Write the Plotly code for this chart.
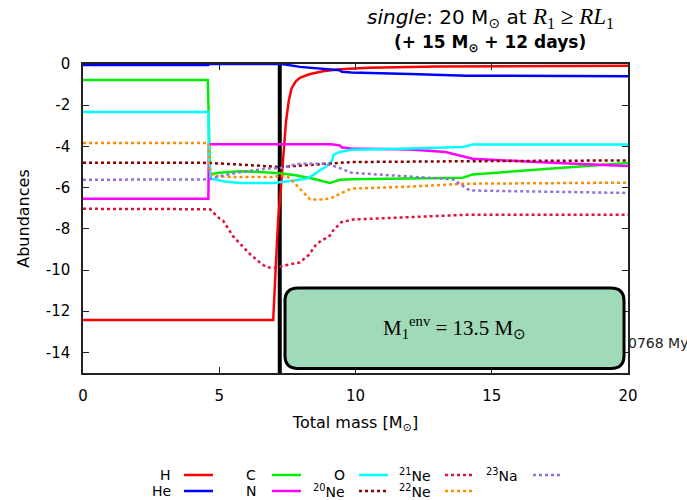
import plotly.graph_objects as go

# ---------------- data ----------------
H_x = [0, 6.98, 7.05, 7.12, 7.16, 7.22, 7.28, 7.36, 7.45, 7.55, 7.65, 7.8, 7.96, 8.3, 8.8, 9.42, 10.5, 13, 16, 20]
H_y = [-12.43, -12.43, -10.5, -8.3, -7.6, -6.7, -5.75, -4.2, -2.8, -1.8, -1.2, -0.85, -0.67, -0.5, -0.35, -0.25, -0.18, -0.12, -0.1, -0.09]

He_x = [0, 4.6, 4.62, 7.3, 7.96, 8.6, 9.2, 9.42, 9.5, 9.85, 12, 14.07, 20]
He_y = [-0.05, -0.05, 0.0, 0.0, -0.14, -0.2, -0.27, -0.3, -0.38, -0.41, -0.48, -0.57, -0.59]

C_x = [0, 4.58, 4.62, 4.66, 5.0, 5.76, 6.5, 7.22, 7.8, 8.45, 9.06, 9.42, 9.9, 12, 13.94, 14.3, 17, 19.94, 20]
C_y = [-0.78, -0.78, -3.0, -5.35, -5.28, -5.21, -5.24, -5.3, -5.4, -5.57, -5.78, -5.62, -5.6, -5.57, -5.52, -5.36, -5.1, -4.81, -4.8]

N_x = [0, 4.6, 4.62, 9.1, 9.42, 9.5, 9.85, 12, 13.3, 13.8, 14.3, 17, 20]
N_y = [-6.54, -6.54, -3.9, -3.9, -3.95, -4.05, -4.1, -4.15, -4.27, -4.43, -4.6, -4.78, -4.95]

O_x = [0, 4.6, 4.62, 4.7, 5.2, 5.76, 6.98, 7.22, 7.6, 8.2, 8.5, 8.69, 8.9, 9.12, 9.2, 9.42, 9.85, 12, 13.94, 14.3, 20]
O_y = [-2.33, -2.33, -4.5, -5.57, -5.7, -5.78, -5.78, -5.75, -5.68, -5.57, -5.35, -5.16, -5.0, -4.76, -4.4, -4.27, -4.16, -4.1, -4.03, -3.91, -3.91]

Ne20_x = [0, 4.6, 6, 7.22, 8, 9.42, 9.85, 14, 20]
Ne20_y = [-4.79, -4.8, -4.9, -5.0, -4.93, -4.81, -4.76, -4.72, -4.68]

Ne21_x = [0, 4.6, 4.66, 5.02, 5.14, 5.51, 6.12, 6.5, 6.74, 7.05, 7.35, 7.96, 8.3, 8.57, 9.06, 9.18, 9.48, 9.9, 12, 14.07, 20]
Ne21_y = [-7.03, -7.03, -7.05, -7.51, -7.6, -8.37, -9.22, -9.65, -9.87, -9.9, -9.79, -9.63, -9.25, -8.73, -8.33, -8.08, -7.68, -7.55, -7.45, -7.32, -7.32]

Ne22_x = [0, 4.6, 4.62, 4.77, 5.5, 6.98, 7.22, 7.47, 7.7, 7.96, 8.33, 8.7, 9.06, 9.42, 9.85, 12, 14.07, 20]
Ne22_y = [-3.83, -3.83, -5.0, -5.44, -5.49, -5.49, -5.43, -5.41, -5.7, -6.05, -6.57, -6.58, -6.54, -6.3, -6.05, -5.95, -5.81, -5.76]

Na23_x = [0, 4.6, 4.62, 5.0, 5.76, 6.74, 7.22, 7.83, 7.96, 8.93, 9.06, 9.42, 9.85, 12, 13.58, 14.19, 20]
Na23_y = [-5.62, -5.62, -5.6, -5.45, -5.25, -5.08, -5.05, -4.87, -4.84, -4.84, -4.89, -5.05, -5.28, -5.45, -5.6, -6.14, -6.26]

marker_mass = 7.22          # current mass coordinate (vertical line)
y_range = [-15, 0]
x_range = [0, 20]

x_tickvals = [0, 5, 10, 15, 20]
x_ticktext = ["0", "5", "10", "15", "20"]
y_tickvals = [0, -2, -4, -6, -8, -10, -12, -14]
y_ticktext = ["0", "-2", "-4", "-6", "-8", "-10", "-12", "-14"]

series = [
    # name, x, y, colour, dash
    ("H", H_x, H_y, "#ff0000", "solid"),
    ("He", He_x, He_y, "#0000ff", "solid"),
    ("C", C_x, C_y, "#00ee00", "solid"),
    ("N", N_x, N_y, "#ff00ff", "solid"),
    ("O", O_x, O_y, "#00ffff", "solid"),
    ("<sup>20</sup>Ne", Ne20_x, Ne20_y, "#8b0000", "dot"),
    ("<sup>21</sup>Ne", Ne21_x, Ne21_y, "#dc143c", "dot"),
    ("<sup>22</sup>Ne", Ne22_x, Ne22_y, "#ff8c00", "dot"),
    ("<sup>23</sup>Na", Na23_x, Na23_y, "#9370db", "dot"),
]

# legend layout (column-major, gnuplot style: label then sample)
legend_slots = [(0, 0), (0, 1), (1, 0), (1, 1), (2, 0), (2, 1), (3, 0), (3, 1), (4, 0)]

# ---------------- geometry helpers ----------------
W, Hh = 687, 500
L, R, T, B = 83, 628, 64, 373


def px(xp):
    return (xp - L) / (R - L)


def py(yp):
    return (B - yp) / (B - T)


FONT = "DejaVu Sans"

fig = go.Figure()

# vertical marker line
fig.add_trace(go.Scatter(x=[marker_mass, marker_mass], y=y_range, mode="lines",
                         line=dict(color="black", width=4), showlegend=False,
                         hoverinfo="skip"))

for name, xs, ys, col, dash in series:
    fig.add_trace(go.Scatter(x=xs, y=ys, mode="lines", name=name,
                             line=dict(color=col, width=2.5, dash=dash),
                             showlegend=False))

shapes = []
annotations = []

# legend
col_label_right = [173, 258, 347, 433, 520]
col_line_start = [184, 272, 359, 445, 533]
row_y = [475, 491]
for (name, xs, ys, col, dash), (c, r) in zip(series, legend_slots):
    yy = row_y[r]
    annotations.append(dict(xref="paper", yref="paper", x=px(col_label_right[c]), y=py(yy),
                            xanchor="right", yanchor="middle", text=name, showarrow=False,
                            font=dict(family=FONT, size=14, color="black")))
    shapes.append(dict(type="line", xref="paper", yref="paper",
                       x0=px(col_line_start[c]), x1=px(col_line_start[c] + 29),
                       y0=py(yy), y1=py(yy), line=dict(color=col, width=2.5, dash=dash)))

# rounded box
bx0, bx1, by0, by1, rr = 285, 624, 288, 368.5, 13
X0, X1 = px(bx0), px(bx1)
Yt, Yb = py(by0), py(by1)
rx = rr / (R - L)
ry = rr / (B - T)
path = (f"M {X0+rx},{Yt} L {X1-rx},{Yt} Q {X1},{Yt} {X1},{Yt-ry} "
        f"L {X1},{Yb+ry} Q {X1},{Yb} {X1-rx},{Yb} L {X0+rx},{Yb} "
        f"Q {X0},{Yb} {X0},{Yb+ry} L {X0},{Yt-ry} Q {X0},{Yt} {X0+rx},{Yt} Z")

annotations.append(dict(xref="paper", yref="paper", x=px(626), y=py(343), xanchor="left",
                        yanchor="middle", text="0768 My", showarrow=False,
                        font=dict(family=FONT, size=14, color="#222")))

shapes.append(dict(type="path", xref="paper", yref="paper", path=path,
                   fillcolor="#a0dab9", line=dict(color="black", width=3), layer="above"))

annotations.append(dict(xref="paper", yref="paper", x=px(454), y=py(327), xanchor="center",
                        yanchor="middle",
                        text="M<sub>1</sub><sup>env</sup> = 13.5 M<sub>⊙</sub>",
                        showarrow=False,
                        font=dict(family="Liberation Serif", size=21, color="black")))

# title
annotations.append(dict(xref="paper", yref="paper", x=px(490), y=py(18), xanchor="center",
                        yanchor="middle",
                        text=("<i>single</i>: 20 M<sub>⊙</sub> at "
                              "<span style='font-family:Liberation Serif;font-size:23px'>"
                              "<i>R</i><sub>1</sub> ≥ <i>RL</i><sub>1</sub></span>"),
                        showarrow=False, font=dict(family=FONT, size=20, color="black")))
annotations.append(dict(xref="paper", yref="paper", x=px(490), y=py(43), xanchor="center",
                        yanchor="middle",
                        text="<b>(+ 15 M<sub>⊙</sub> + 12 days)</b>",
                        showarrow=False, font=dict(family=FONT, size=17, color="black")))

axis_common = dict(showline=True, linecolor="#222", linewidth=1.5, mirror="ticks",
                   ticks="inside", ticklen=6, tickcolor="#222", tickwidth=1,
                   showgrid=False, zeroline=False,
                   tickfont=dict(family=FONT, size=15, color="black"))

fig.update_layout(
    width=W, height=Hh,
    margin=dict(l=L, r=W - R, t=T, b=Hh - B, autoexpand=False),
    paper_bgcolor="white", plot_bgcolor="white",
    xaxis=dict(range=x_range, tickvals=x_tickvals, ticktext=x_ticktext,
               ticklabelstandoff=8,
               title=dict(text="Total mass [M<sub>⊙</sub>]", standoff=13,
                          font=dict(family=FONT, size=16, color="black")),
               **axis_common),
    yaxis=dict(range=y_range, tickvals=y_tickvals, ticktext=y_ticktext,
               ticklabelstandoff=8,
               title=dict(text="Abundances", standoff=12,
                          font=dict(family=FONT, size=16, color="black")),
               **axis_common),
    shapes=shapes, annotations=annotations,
    showlegend=False,
)

fig.write_html("out.html", config=dict(displayModeBar=False),
               post_script="document.body.style.margin='0';document.body.style.overflow='hidden';")
